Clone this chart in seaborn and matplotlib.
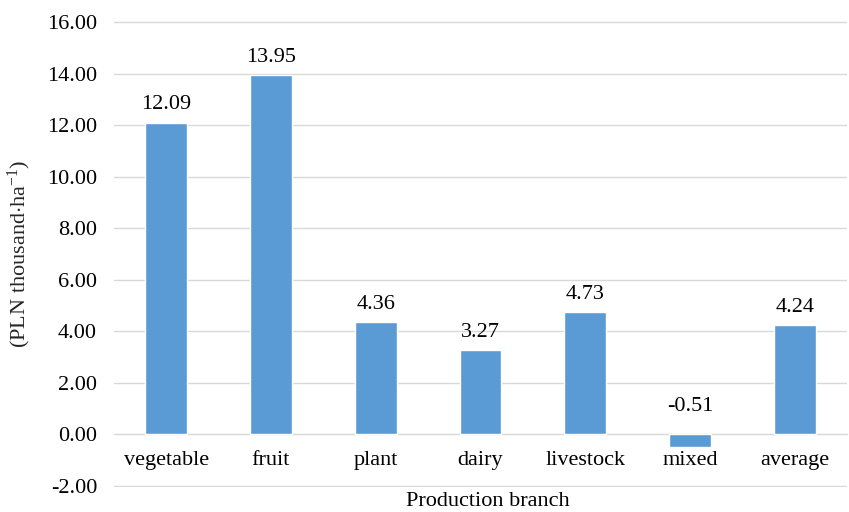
import matplotlib
matplotlib.use('Agg')
import matplotlib.pyplot as plt
import seaborn as sns
import pandas as pd

branches = ['vegetable', 'fruit', 'plant', 'dairy', 'livestock', 'mixed', 'average']
values = [12.09, 13.95, 4.36, 3.27, 4.73, -0.51, 4.24]
yticks = [-2, 0, 2, 4, 6, 8, 10, 12, 14, 16]

df = pd.DataFrame({'branch': branches, 'value': values})

sns.set_style('white')
plt.rcParams['font.family'] = ['Liberation Serif', 'DejaVu Serif']
plt.rcParams['mathtext.fontset'] = 'custom'
plt.rcParams['mathtext.rm'] = 'Liberation Serif'
plt.rcParams['mathtext.it'] = 'Liberation Serif:italic'
plt.rcParams['text.color'] = 'black'
plt.rcParams['xtick.color'] = 'black'
plt.rcParams['ytick.color'] = 'black'

fig = plt.figure(figsize=(8.49, 5.12), dpi=100)
ax = fig.add_axes([0.134, 0.049, 0.864, 0.910])

sns.barplot(data=df, x='branch', y='value', color='#5B9BD5', width=0.4,
            saturation=1, ax=ax, zorder=3)

ax.set_ylim(-2.04, 16.04)
ax.set_yticks(yticks)
ax.set_yticklabels([f'{t:.2f}' for t in yticks], fontsize=16)
ax.yaxis.grid(True, color='#D9D9D9', linewidth=1, zorder=0)
ax.set_axisbelow(True)

for s in ['left', 'right', 'top']:
    ax.spines[s].set_visible(False)
ax.spines['bottom'].set_position(('data', 0))
ax.spines['bottom'].set_color('#D9D9D9')
ax.spines['bottom'].set_zorder(2)
ax.tick_params(axis='x', length=0, labelsize=16, pad=12)
ax.tick_params(axis='y', length=0, pad=12)

# data labels; the negative one sits above the zero line like in Excel
for i, v in enumerate(values):
    off = 6 if v >= 0 else 13
    ax.annotate(f'{v:.2f}', (i, max(v, 0)), xytext=(0, off), textcoords='offset points',
                ha='center', va='bottom', fontsize=16)

ax.set_xlabel('')
fig.text(0.574, 0.020, 'Production branch', ha='center', va='center', fontsize=16)
ax.set_ylabel(r'(PLN thousand$\cdot$ha$^{\mathregular{-1}}$)', fontsize=16, labelpad=10)

fig.savefig('out.png', dpi=100)
